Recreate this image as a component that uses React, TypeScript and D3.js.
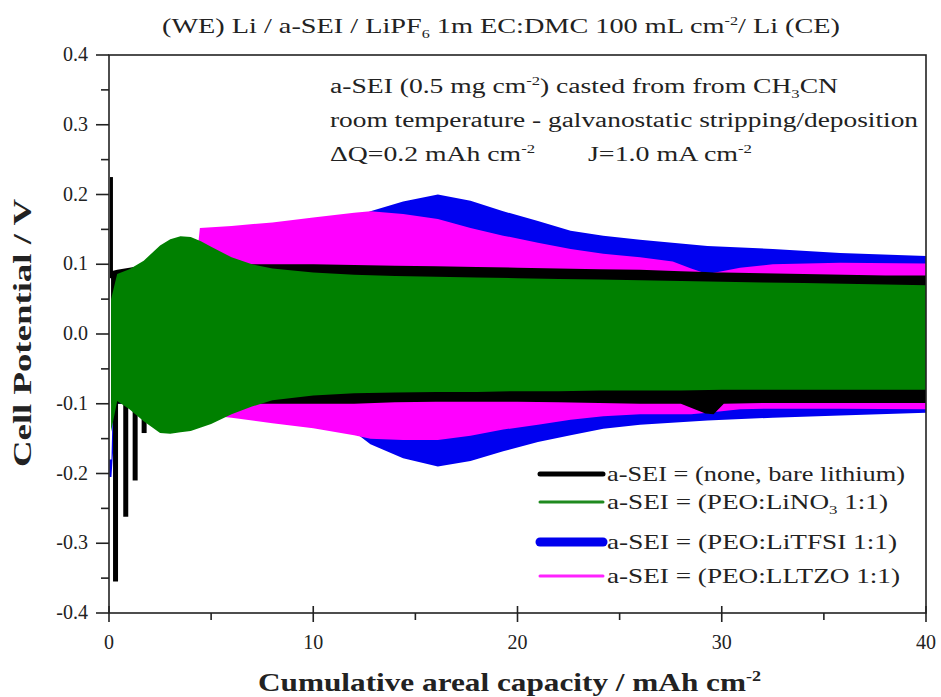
import { useRef, useEffect } from 'react';
import * as d3 from 'd3';

// envelopes (upper / lower potential), V vs mAh cm-2
const blueX = [0.02, 0.12, 0.35, 2, 4, 6, 8, 10, 12, 12.8, 14.4, 16.1, 17.7, 19.3, 21, 22.6, 24.2, 26, 29.3, 32.5, 35.8, 40];
const blueHi = [-0.18, -0.18, 0.09, 0.1, 0.11, 0.12, 0.13, 0.145, 0.165, 0.176, 0.19, 0.2, 0.191, 0.176, 0.162, 0.148, 0.141, 0.135, 0.126, 0.122, 0.116, 0.112];
const blueLo = [-0.205, -0.205, -0.1, -0.1, -0.11, -0.115, -0.125, -0.13, -0.14, -0.158, -0.178, -0.19, -0.182, -0.168, -0.155, -0.145, -0.136, -0.13, -0.124, -0.12, -0.117, -0.113];

const magX = [0.3, 2, 4.3, 4.45, 6, 8, 10, 12, 12.8, 14.4, 16.1, 17.7, 19.3, 21, 22.6, 24.2, 26, 27.6, 28.5, 29.3, 30.9, 32.5, 35.8, 40];
const magHi = [0.08, 0.1, 0.11, 0.152, 0.155, 0.16, 0.167, 0.174, 0.176, 0.172, 0.165, 0.152, 0.141, 0.131, 0.122, 0.115, 0.11, 0.104, 0.094, 0.086, 0.095, 0.1, 0.102, 0.101];
const magLo = [-0.09, -0.1, -0.11, -0.115, -0.12, -0.128, -0.135, -0.145, -0.15, -0.152, -0.152, -0.146, -0.137, -0.13, -0.123, -0.118, -0.115, -0.115, -0.115, -0.113, -0.108, -0.107, -0.107, -0.108];

const blackX = [0.1, 0.4, 1, 2, 4, 6, 8, 10, 12, 14, 16, 18, 20, 22, 24, 26, 28, 29.2, 29.6, 30.1, 32, 34, 36, 38, 40];
const blackHi = [0.09, 0.092, 0.095, 0.1, 0.1, 0.1, 0.1, 0.1, 0.099, 0.098, 0.097, 0.096, 0.095, 0.094, 0.093, 0.092, 0.09, 0.089, 0.088, 0.088, 0.087, 0.086, 0.085, 0.084, 0.084];
const blackLo = [-0.1, -0.1, -0.1, -0.1, -0.1, -0.1, -0.1, -0.1, -0.1, -0.098, -0.097, -0.097, -0.097, -0.098, -0.099, -0.1, -0.1, -0.114, -0.115, -0.1, -0.099, -0.099, -0.099, -0.099, -0.099];
// first cycles of bare lithium: isolated spikes
const blackSpikeX = [0.12, 0.32, 0.82, 1.28, 1.72];
const blackSpikeV = [0.225, -0.355, -0.262, -0.21, -0.142];

const greenX = [0.1, 0.4, 1.0, 1.7, 2.5, 3.0, 3.5, 4.0, 4.5, 5, 6, 7, 8, 10, 12, 14, 16, 18, 20, 22, 24, 26, 28, 30, 32, 34, 36, 38, 40];
const greenHi = [0.05, 0.086, 0.093, 0.105, 0.127, 0.136, 0.14, 0.139, 0.133, 0.125, 0.11, 0.1, 0.094, 0.088, 0.085, 0.083, 0.082, 0.081, 0.08, 0.079, 0.078, 0.077, 0.076, 0.075, 0.074, 0.073, 0.072, 0.071, 0.07];
const greenLo = [-0.14, -0.096, -0.108, -0.125, -0.142, -0.143, -0.141, -0.139, -0.134, -0.129, -0.115, -0.104, -0.095, -0.088, -0.085, -0.084, -0.083, -0.083, -0.082, -0.082, -0.081, -0.081, -0.081, -0.08, -0.08, -0.08, -0.08, -0.08, -0.08];

const legendNames = ['a-SEI = (none, bare lithium)', 'a-SEI = (PEO:LiNO', 'a-SEI = (PEO:LiTFSI 1:1)', 'a-SEI = (PEO:LLTZO 1:1)'];
const legendColors = ['#000000', '#1f8a1f', '#0000ee', '#ff22ff'];

const xTicks = [0, 10, 20, 30, 40];
const yTicks = [-0.4, -0.3, -0.2, -0.1, 0.0, 0.1, 0.2, 0.3, 0.4];

const W = 941, H = 697;
const FONT = 'Times New Roman, Liberation Serif, serif';

const Chart = () => {
  const svgRef = useRef(null);

  useEffect(() => {
    const svg = d3.select(svgRef.current);
    svg.selectAll('*').remove();

    const x = d3.scaleLinear().domain([0, 40]).range([109, 926]);
    const y = d3.scaleLinear().domain([-0.4, 0.4]).range([613, 55]);

    const plot = svg.append('g');
    const band = (xs, hi, lo) => xs.map((d, i) => ({ x: d, hi: hi[i], lo: lo[i] }));
    const area = d3.area().x((d: any) => x(d.x)).y0((d: any) => y(d.lo)).y1((d: any) => y(d.hi));

    // drawing order: blue, magenta, black, green on top
    plot.append('path').attr('d', area(band(blueX, blueHi, blueLo))).attr('fill', '#0000f0');
    plot.append('path').attr('d', area(band(magX, magHi, magLo))).attr('fill', '#ff00ff');
    plot.append('path').attr('d', area(band(blackX, blackHi, blackLo))).attr('fill', '#000000');
    plot.selectAll('.spike')
      .data(blackSpikeX)
      .join('line')
      .attr('x1', (d) => x(d)).attr('x2', (d) => x(d))
      .attr('y1', (_, i) => y(blackSpikeV[i] > 0 ? 0.08 : -0.09))
      .attr('y2', (_, i) => y(blackSpikeV[i]))
      .attr('stroke', '#000')
      .attr('stroke-width', (_, i) => (i === 0 ? 3 : 5));
    plot.append('path').attr('d', area(band(greenX, greenHi, greenLo))).attr('fill', '#008000');

    // frame
    const ax = svg.append('g').attr('stroke', '#222').attr('stroke-width', 1.6).attr('fill', 'none');
    ax.append('rect').attr('x', 109).attr('y', 55).attr('width', 926 - 109).attr('height', 613 - 55);

    // y ticks
    d3.range(-0.4, 0.4001, 0.05).forEach((v, i) => {
      const major = i % 2 === 0;
      ax.append('line').attr('x1', 109 - (major ? 13 : 8)).attr('x2', 109).attr('y1', y(v)).attr('y2', y(v));
    });
    // x ticks
    d3.range(0, 40.01, 5).forEach((v, i) => {
      const major = i % 2 === 0;
      ax.append('line').attr('x1', x(v)).attr('x2', x(v)).attr('y1', major ? 606 : 613).attr('y2', major ? 622 : 620);
    });

    const txt = svg.append('g').attr('font-family', FONT).attr('fill', '#222');

    txt.selectAll('.yt').data(yTicks).join('text')
      .attr('x', 88).attr('y', (d) => y(d) + 6)
      .attr('text-anchor', 'end').attr('font-size', 20)
      .text((d) => d.toFixed(1));
    txt.selectAll('.xt').data(xTicks).join('text')
      .attr('x', (d) => x(d)).attr('y', 649)
      .attr('text-anchor', 'middle').attr('font-size', 20)
      .text((d) => d);

    // axis titles
    const xl = txt.append('text').attr('x', 258).attr('y', 691).attr('font-size', 26).attr('font-weight', 'bold')
      .attr('textLength', 503).attr('lengthAdjust', 'spacingAndGlyphs');
    xl.append('tspan').text('Cumulative areal capacity / mAh cm');
    xl.append('tspan').attr('font-size', 15).attr('baseline-shift', '70%').text('-2');

    txt.append('text').attr('transform', 'translate(31,333) rotate(-90)').attr('text-anchor', 'middle')
      .attr('font-size', 26).attr('font-weight', 'bold')
      .attr('textLength', 268).attr('lengthAdjust', 'spacingAndGlyphs')
      .text('Cell Potential / V');

    // title
    const tt = txt.append('text').attr('x', 162).attr('y', 33).attr('font-size', 21)
      .attr('textLength', 678).attr('lengthAdjust', 'spacingAndGlyphs');
    tt.append('tspan').text('(WE) Li / a-SEI / LiPF');
    tt.append('tspan').attr('font-size', 12).attr('baseline-shift', '-40%').text('6');
    tt.append('tspan').text(' 1m EC:DMC 100 mL cm');
    tt.append('tspan').attr('font-size', 12).attr('baseline-shift', '70%').text('-2');
    tt.append('tspan').text('/ Li (CE)');

    // annotation
    const a1 = txt.append('text').attr('x', 330).attr('y', 93).attr('font-size', 20)
      .attr('textLength', 508).attr('lengthAdjust', 'spacingAndGlyphs');
    a1.append('tspan').text('a-SEI (0.5 mg cm');
    a1.append('tspan').attr('font-size', 12).attr('baseline-shift', '70%').text('-2');
    a1.append('tspan').text(') casted from from CH');
    a1.append('tspan').attr('font-size', 12).attr('baseline-shift', '-40%').text('3');
    a1.append('tspan').text('CN');
    txt.append('text').attr('x', 330).attr('y', 127).attr('font-size', 20)
      .attr('textLength', 588).attr('lengthAdjust', 'spacingAndGlyphs')
      .text('room temperature - galvanostatic stripping/deposition');
    const a3 = txt.append('text').attr('x', 330).attr('y', 161).attr('font-size', 20)
      .attr('textLength', 205).attr('lengthAdjust', 'spacingAndGlyphs');
    a3.append('tspan').text('\u0394Q=0.2 mAh cm');
    a3.append('tspan').attr('font-size', 12).attr('baseline-shift', '70%').text('-2');
    const a4 = txt.append('text').attr('x', 588).attr('y', 161).attr('font-size', 20)
      .attr('textLength', 164).attr('lengthAdjust', 'spacingAndGlyphs');
    a4.append('tspan').text('J=1.0 mA cm');
    a4.append('tspan').attr('font-size', 12).attr('baseline-shift', '70%').text('-2');

    // legend
    const rowsY = [474, 502, 542, 576];
    const widths = [5, 3, 9, 3];
    const textLen = [298, 281, 290, 293];
    legendNames.forEach((name, i) => {
      svg.append('line').attr('x1', 540).attr('x2', 603).attr('y1', rowsY[i]).attr('y2', rowsY[i])
        .attr('stroke', legendColors[i]).attr('stroke-width', widths[i]).attr('stroke-linecap', 'round');
      const t = txt.append('text').attr('x', 607).attr('y', rowsY[i] + 7).attr('font-size', 21)
        .attr('textLength', textLen[i]).attr('lengthAdjust', 'spacingAndGlyphs');
      t.append('tspan').text(name);
      if (i === 1) {
        t.append('tspan').attr('font-size', 13).attr('baseline-shift', '-40%').text('3');
        t.append('tspan').text(' 1:1)');
      }
    });
  }, []);

  return <svg ref={svgRef} width={W} height={H} style={{ position: 'absolute', left: 0, top: 0, background: '#fff' }} />;
};

export default function App() {
  return <Chart />;
}
